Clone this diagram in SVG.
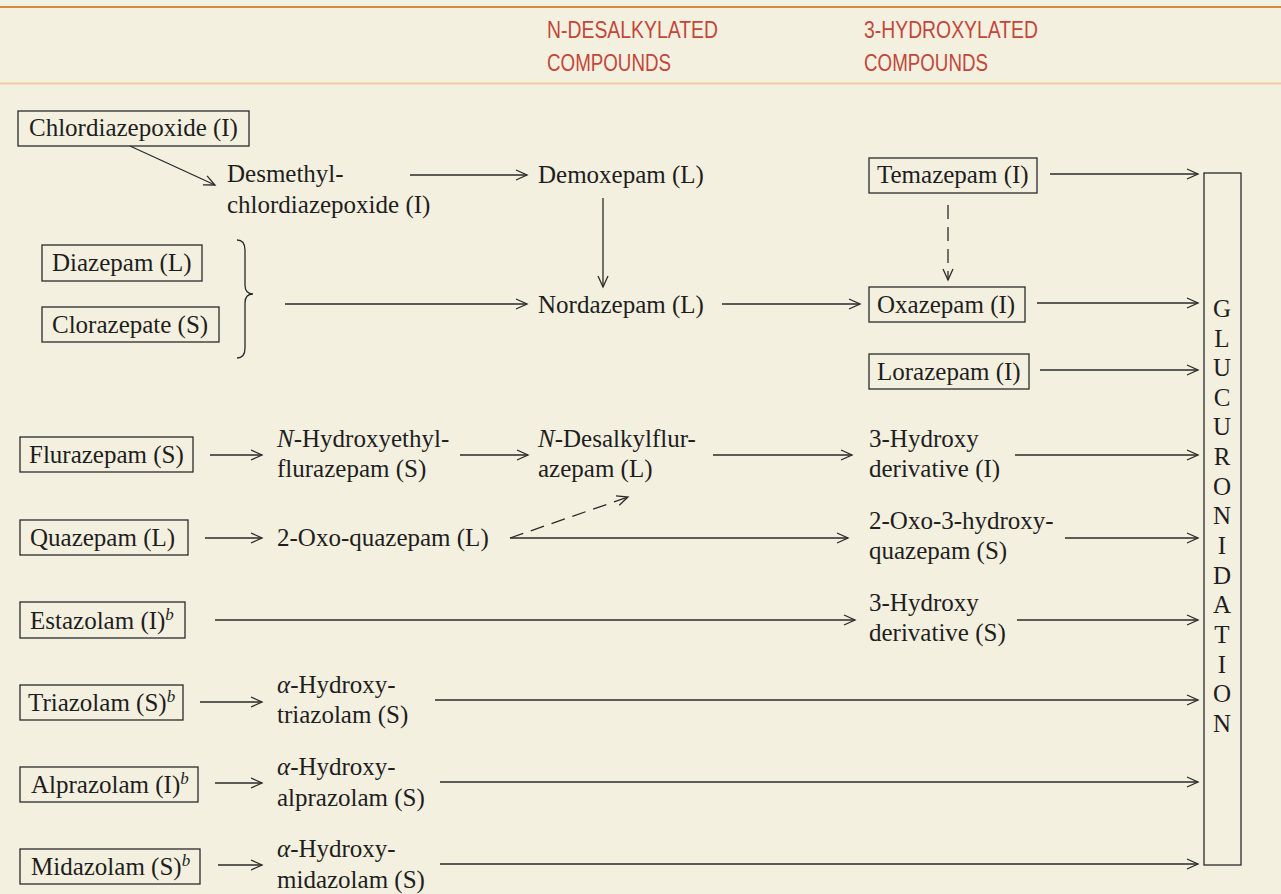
<svg xmlns="http://www.w3.org/2000/svg" width="1281" height="894" viewBox="0 0 1281 894">
<defs>
<marker id="ah" markerUnits="userSpaceOnUse" markerWidth="14" markerHeight="12" refX="12" refY="6" orient="auto">
<path d="M1,1 L12,6 L1,11" fill="none" stroke="#2a2a2a" stroke-width="1.3"/>
</marker>
<style>
.t{font-family:"Liberation Serif","Times New Roman",serif;font-size:25px;fill:#1e1e1e}
.h{font-family:"Liberation Sans",Arial,sans-serif;font-size:24px;fill:#c2473a}
.box{fill:none;stroke:#2a2a2a;stroke-width:1.3}
.c{fill:none;stroke:#2a2a2a;stroke-width:1.3;marker-end:url(#ah)}
.d{stroke-dasharray:14 8}
.sup{font-size:17px;font-style:italic}
.i{font-style:italic}
</style>
</defs>
<rect width="1281" height="894" fill="#f4f0df"/>
<g id="header">
<line x1="0" y1="7" x2="1281" y2="7" stroke="#d8883a" stroke-width="2"/>
<line x1="0" y1="83.5" x2="1281" y2="83.5" stroke="#f0caa4" stroke-width="2"/>
<text class="h" x="547" y="38" textLength="171" lengthAdjust="spacingAndGlyphs">N-DESALKYLATED</text>
<text class="h" x="547" y="71" textLength="124" lengthAdjust="spacingAndGlyphs">COMPOUNDS</text>
<text class="h" x="864" y="38" textLength="174" lengthAdjust="spacingAndGlyphs">3-HYDROXYLATED</text>
<text class="h" x="864" y="71" textLength="124" lengthAdjust="spacingAndGlyphs">COMPOUNDS</text>
</g>
<g id="connectors">
<line class="c" x1="130" y1="146" x2="215" y2="185"/>
<line class="c" x1="410" y1="175" x2="527" y2="175"/>
<line class="c" x1="603" y1="198" x2="603" y2="287"/>
<line class="c" x1="1050" y1="174" x2="1198" y2="174"/>
<line class="c d" x1="948" y1="205" x2="948" y2="280"/>
<path class="box" d="M237,240 Q245,240 245,250 L245,285 Q245,294 253,294 Q245,294 245,303 L245,348 Q245,358 237,358"/>
<line class="c" x1="285" y1="304" x2="527" y2="304"/>
<line class="c" x1="722" y1="304" x2="860" y2="304"/>
<line class="c" x1="1037" y1="303" x2="1198" y2="303"/>
<line class="c" x1="1040" y1="370" x2="1198" y2="370"/>
<line class="c" x1="210" y1="455" x2="262" y2="455"/>
<line class="c" x1="460" y1="455" x2="528" y2="455"/>
<line class="c" x1="713" y1="455" x2="852" y2="455"/>
<line class="c" x1="1015" y1="455" x2="1198" y2="455"/>
<line class="c" x1="205" y1="538" x2="262" y2="538"/>
<line class="c" x1="510" y1="538" x2="848" y2="538"/>
<line class="c d" x1="510" y1="538" x2="628" y2="497"/>
<line class="c" x1="1065" y1="538" x2="1198" y2="538"/>
<line class="c" x1="215" y1="620" x2="855" y2="620"/>
<line class="c" x1="1017" y1="620" x2="1198" y2="620"/>
<line class="c" x1="200" y1="702" x2="262" y2="702"/>
<line class="c" x1="435" y1="700" x2="1198" y2="700"/>
<line class="c" x1="215" y1="783" x2="262" y2="783"/>
<line class="c" x1="440" y1="782" x2="1198" y2="782"/>
<line class="c" x1="218" y1="865" x2="262" y2="865"/>
<line class="c" x1="440" y1="864" x2="1198" y2="864"/>
</g>
<g id="chlordiazepoxide"><rect class="box" x="18" y="111" width="231" height="35"/><text class="t" x="29" y="136">Chlordiazepoxide (I)</text></g>
<g id="desmethyl"><text class="t" x="227" y="182">Desmethyl-</text><text class="t" x="227" y="213">chlordiazepoxide (I)</text></g>
<g id="demoxepam"><text class="t" x="538" y="183">Demoxepam (L)</text></g>
<g id="temazepam"><rect class="box" x="869" y="158" width="168" height="35"/><text class="t" x="877" y="183">Temazepam (I)</text></g>
<g id="diazepam"><rect class="box" x="42" y="245" width="160" height="36"/><text class="t" x="52" y="271">Diazepam (L)</text></g>
<g id="clorazepate"><rect class="box" x="42" y="307" width="177" height="35"/><text class="t" x="52" y="333">Clorazepate (S)</text></g>
<g id="nordazepam"><text class="t" x="538" y="313">Nordazepam (L)</text></g>
<g id="oxazepam"><rect class="box" x="869" y="287" width="156" height="35"/><text class="t" x="877" y="313">Oxazepam (I)</text></g>
<g id="lorazepam"><rect class="box" x="869" y="354" width="160" height="35"/><text class="t" x="877" y="380">Lorazepam (I)</text></g>
<g id="flurazepam"><rect class="box" x="20" y="437" width="173" height="35"/><text class="t" x="29" y="463">Flurazepam (S)</text></g>
<g id="n-hydroxyethyl"><text class="t" x="277" y="447"><tspan class="i">N</tspan>-Hydroxyethyl-</text><text class="t" x="277" y="477">flurazepam (S)</text></g>
<g id="n-desalkyl"><text class="t" x="538" y="447"><tspan class="i">N</tspan>-Desalkylflur-</text><text class="t" x="538" y="477">azepam (L)</text></g>
<g id="hydroxy-i"><text class="t" x="869" y="447">3-Hydroxy</text><text class="t" x="869" y="477">derivative (I)</text></g>
<g id="quazepam"><rect class="box" x="20" y="520" width="168" height="35"/><text class="t" x="30" y="546">Quazepam (L)</text></g>
<g id="oxo-quazepam"><text class="t" x="277" y="546">2-Oxo-quazepam (L)</text></g>
<g id="oxo-hydroxy"><text class="t" x="869" y="529">2-Oxo-3-hydroxy-</text><text class="t" x="869" y="559">quazepam (S)</text></g>
<g id="estazolam"><rect class="box" x="20" y="602" width="165" height="36"/><text class="t" x="30" y="629">Estazolam (I)<tspan class="sup" dy="-9">b</tspan></text></g>
<g id="hydroxy-s"><text class="t" x="869" y="611">3-Hydroxy</text><text class="t" x="869" y="641">derivative (S)</text></g>
<g id="triazolam"><rect class="box" x="20" y="685" width="163" height="35"/><text class="t" x="28" y="711">Triazolam (S)<tspan class="sup" dy="-9">b</tspan></text></g>
<g id="a-triazolam"><text class="t" x="277" y="693"><tspan class="i">α</tspan>-Hydroxy-</text><text class="t" x="277" y="723">triazolam (S)</text></g>
<g id="alprazolam"><rect class="box" x="20" y="767" width="178" height="35"/><text class="t" x="31" y="793">Alprazolam (I)<tspan class="sup" dy="-9">b</tspan></text></g>
<g id="a-alprazolam"><text class="t" x="277" y="775"><tspan class="i">α</tspan>-Hydroxy-</text><text class="t" x="277" y="806">alprazolam (S)</text></g>
<g id="midazolam"><rect class="box" x="20" y="849" width="180" height="35"/><text class="t" x="31" y="875">Midazolam (S)<tspan class="sup" dy="-9">b</tspan></text></g>
<g id="a-midazolam"><text class="t" x="277" y="857"><tspan class="i">α</tspan>-Hydroxy-</text><text class="t" x="277" y="888">midazolam (S)</text></g>
<g id="glucuronidation"><rect class="box" x="1204" y="173" width="37" height="692"/>
<text class="t" text-anchor="middle" x="1222" y="317">G</text>
<text class="t" text-anchor="middle" x="1222" y="347">L</text>
<text class="t" text-anchor="middle" x="1222" y="376">U</text>
<text class="t" text-anchor="middle" x="1222" y="406">C</text>
<text class="t" text-anchor="middle" x="1222" y="435">U</text>
<text class="t" text-anchor="middle" x="1222" y="465">R</text>
<text class="t" text-anchor="middle" x="1222" y="495">O</text>
<text class="t" text-anchor="middle" x="1222" y="524">N</text>
<text class="t" text-anchor="middle" x="1222" y="554">I</text>
<text class="t" text-anchor="middle" x="1222" y="584">D</text>
<text class="t" text-anchor="middle" x="1222" y="613">A</text>
<text class="t" text-anchor="middle" x="1222" y="643">T</text>
<text class="t" text-anchor="middle" x="1222" y="673">I</text>
<text class="t" text-anchor="middle" x="1222" y="702">O</text>
<text class="t" text-anchor="middle" x="1222" y="732">N</text>
</g>
</svg>
